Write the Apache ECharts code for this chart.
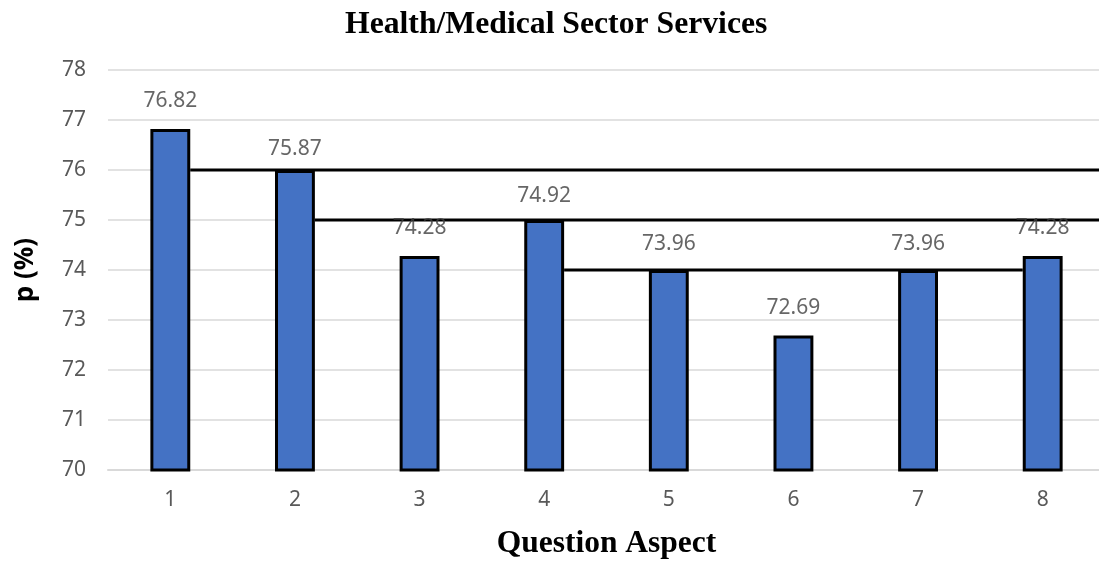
<!DOCTYPE html>
<html>
<head>
<meta charset="utf-8">
<script src="https://cdn.jsdelivr.net/npm/echarts@6/dist/echarts.min.js"></script>
<style>html,body{margin:0;padding:0;background:#fff;overflow:hidden}#c{width:1105px;height:566px}</style>
</head>
<body>
<div id="c"></div>
<script>
// ---- data ----
const categories = ['1', '2', '3', '4', '5', '6', '7', '8'];
// values printed as labels
const labelValues = [76.82, 75.87, 74.28, 74.92, 73.96, 72.69, 73.96, 74.28];
// bar heights as drawn in the picture
const barHeights = [76.82, 76.0, 74.28, 75.0, 74.0, 72.69, 74.0, 74.28];
// horizontal reference lines: level, bar whose right edge starts it, bar whose left edge ends it (null = plot end)
const refLevels = [76, 75, 74];
const refFrom = ['1', '2', '4'];
const refTo = [null, null, '8'];
const yTicks = [70, 71, 72, 73, 74, 75, 76, 77, 78];

const BAR_FRAC = 0.32;
const chart = echarts.init(document.getElementById('c'), null, {renderer: 'canvas'});

const refData = refLevels.map((v, i) => [
  categories.indexOf(refFrom[i]), v,
  refTo[i] == null ? -1 : categories.indexOf(refTo[i])
]);

chart.setOption({
  animation: false,
  backgroundColor: '#fff',
  title: {
    text: 'Health/Medical Sector Services',
    left: 340, top: 4,
    textStyle: {fontFamily: 'Liberation Serif', fontWeight: 'bold', fontSize: 31.7, color: '#000'}
  },
  grid: {left: 108, top: 70, right: 0, bottom: 96, containLabel: false},
  xAxis: {
    type: 'category',
    data: categories,
    name: 'Question Aspect',
    nameLocation: 'middle',
    nameGap: 58,
    nameTextStyle: {fontFamily: 'Liberation Serif', fontWeight: 'bold', fontSize: 31.5, color: '#000'},
    axisLine: {lineStyle: {color: '#d9d9d9', width: 2}},
    axisTick: {show: false},
    axisLabel: {color: '#595959', fontFamily: 'Noto Sans', fontSize: 21, margin: 20}
  },
  yAxis: {
    type: 'value',
    min: yTicks[0], max: yTicks[yTicks.length - 1], interval: 1,
    name: 'p (%)',
    nameLocation: 'middle',
    nameRotate: 90,
    nameGap: 69,
    nameTextStyle: {fontFamily: 'Noto Sans', fontWeight: 'bold', fontSize: 26, color: '#000'},
    axisLine: {show: false},
    axisTick: {show: false},
    axisLabel: {color: '#595959', fontFamily: 'Noto Sans', fontSize: 21, margin: 22},
    splitLine: {lineStyle: {color: '#d9d9d9', width: 1.5}}
  },
  series: [
    {
      type: 'bar',
      data: barHeights,
      barWidth: (BAR_FRAC * 100) + '%',
      itemStyle: {color: '#4472C4', borderColor: '#000', borderWidth: 3},
      z: 2
    },
    {
      type: 'custom',
      data: refData,
      encode: {x: 0, y: 1},
      z: 5,
      renderItem: function (params, api) {
        const from = api.value(0), v = api.value(1), to = api.value(2);
        const bw = api.size([1, 0])[0] * BAR_FRAC;
        const y = api.coord([from, v])[1];
        const x1 = api.coord([from, v])[0] + bw / 2;
        const x2 = to < 0 ? params.coordSys.x + params.coordSys.width : api.coord([to, v])[0] - bw / 2;
        return {type: 'line', shape: {x1: x1, y1: y, x2: x2, y2: y},
                style: {stroke: '#000', lineWidth: 3}};
      }
    },
    {
      type: 'scatter',
      data: labelValues,
      symbolSize: 0,
      silent: true,
      z: 6,
      label: {
        show: true, position: 'top', distance: 17,
        formatter: p => p.value.toFixed(2),
        color: '#404040', fontFamily: 'Noto Sans', fontSize: 21
      }
    }
  ]
});
</script>
</body>
</html>
